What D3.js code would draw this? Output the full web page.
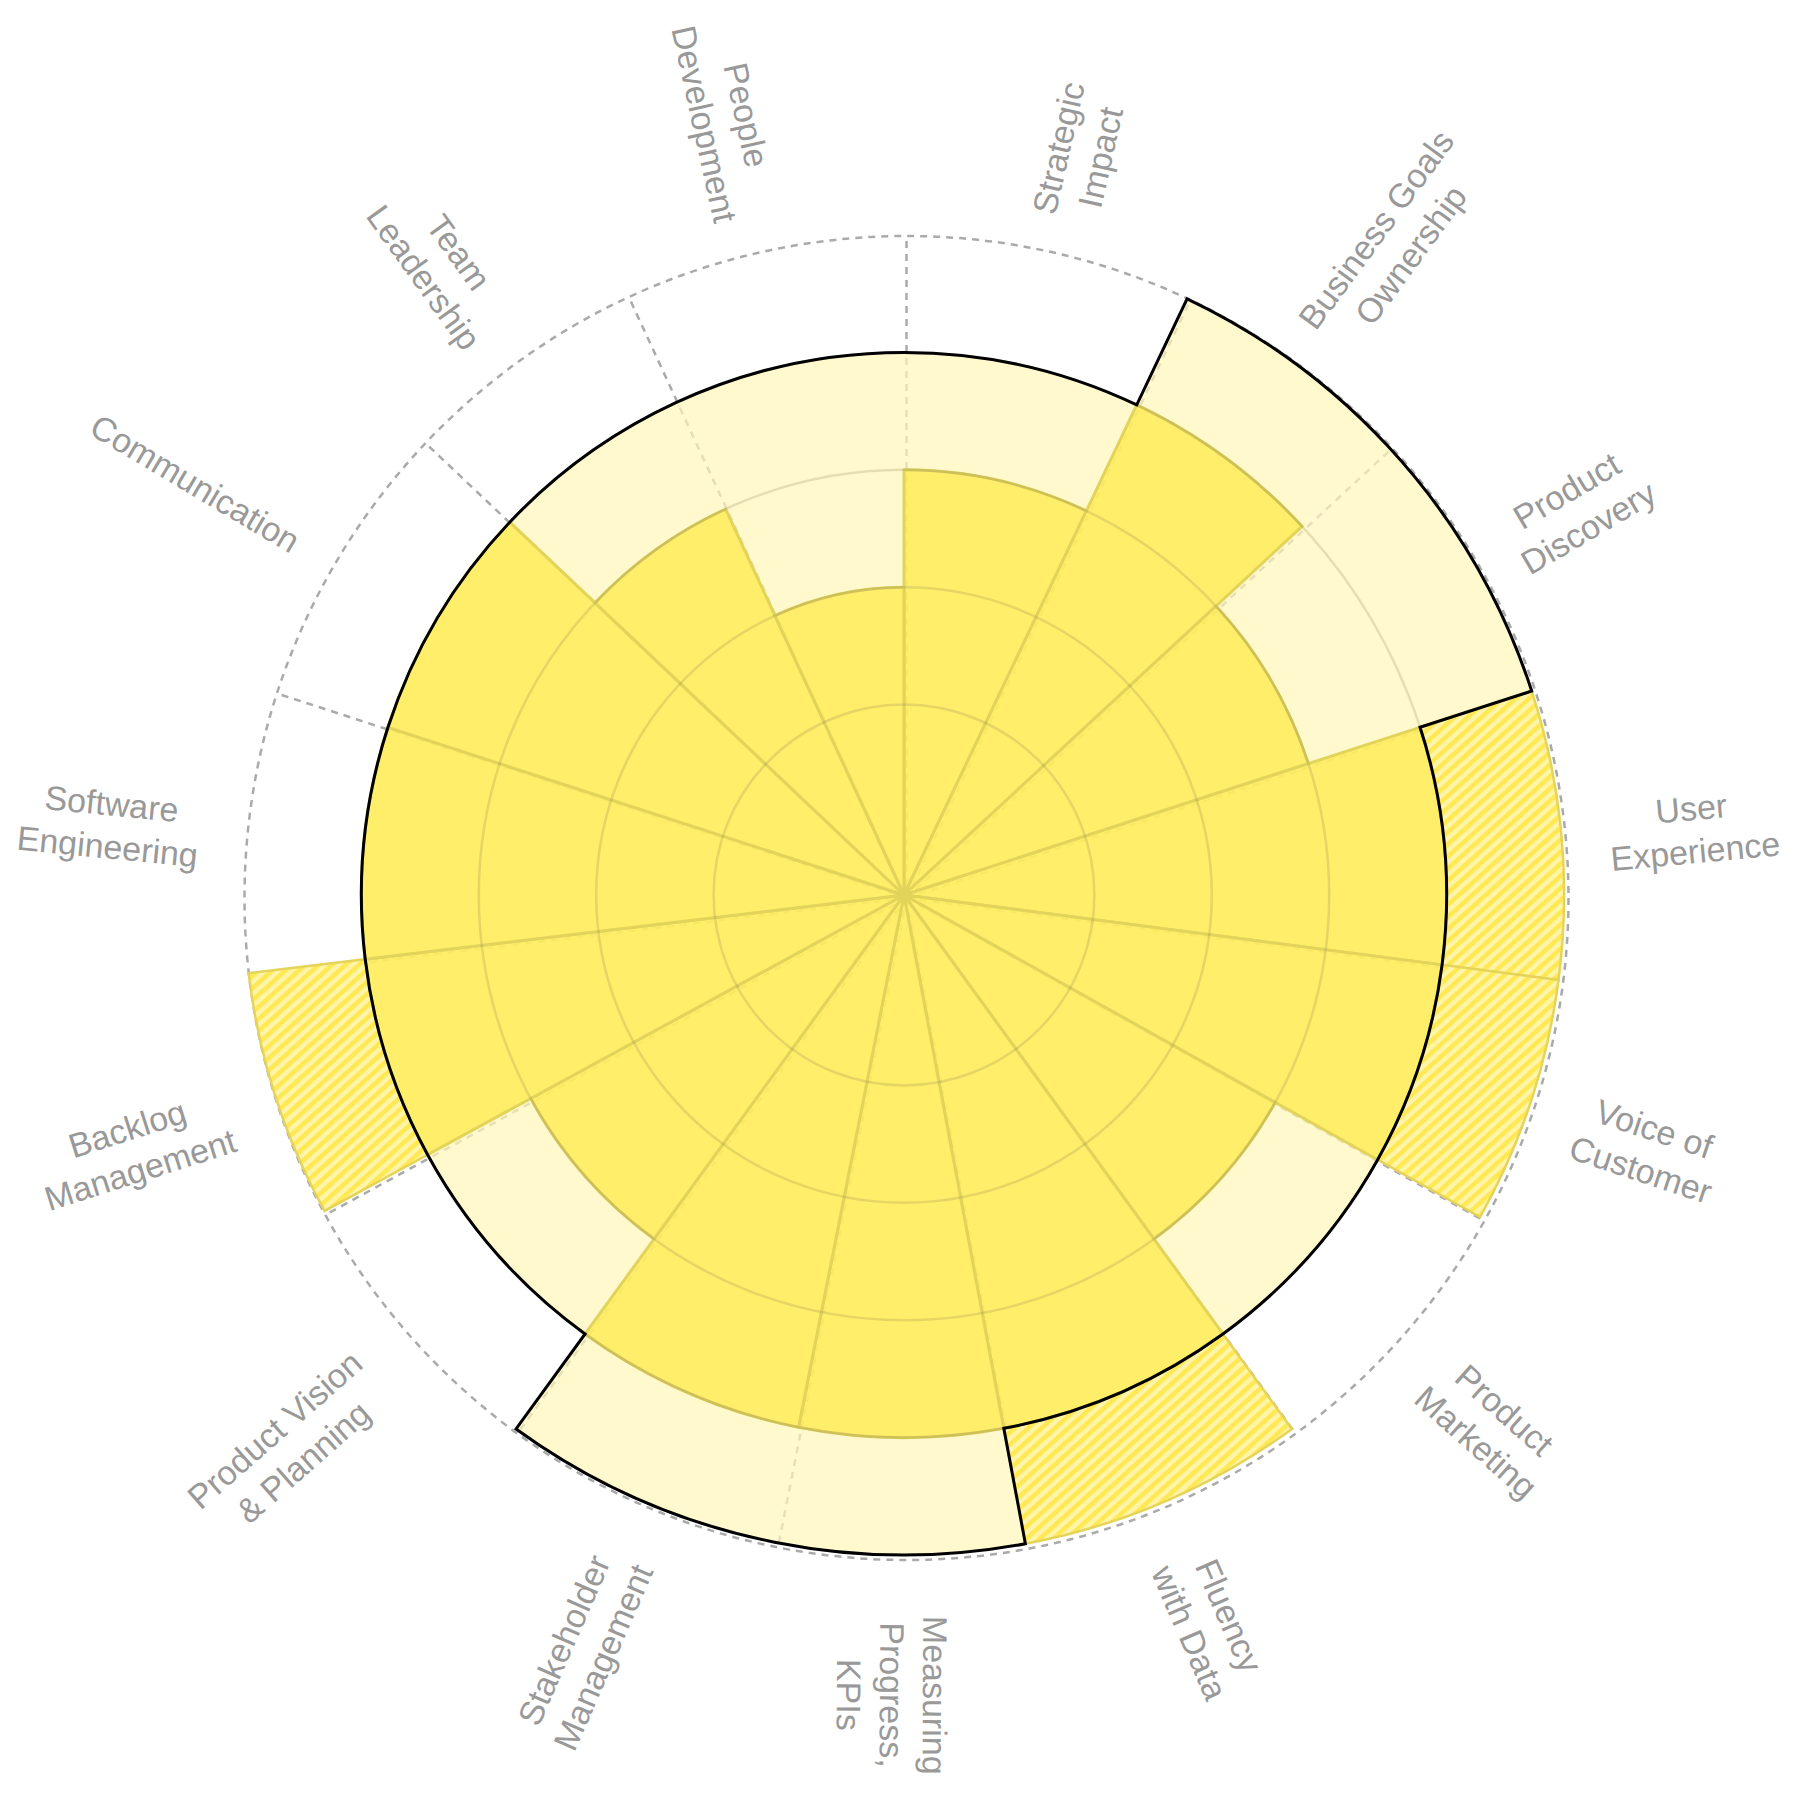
<!DOCTYPE html>
<html>
<head>
<meta charset="utf-8">
<script src="https://cdn.jsdelivr.net/npm/d3@7"></script>
<style>
  html, body { margin: 0; padding: 0; background: #fff; }
  svg { display: block; }
</style>
</head>
<body>
<svg id="chart" width="1800" height="1800"></svg>
<script>
// ---- data ----
const categories = [
  "Strategic\nImpact",
  "Business Goals\nOwnership",
  "Product\nDiscovery",
  "User\nExperience",
  "Voice of\nCustomer",
  "Product\nMarketing",
  "Fluency\nwith Data",
  "Measuring\nProgress,\nKPIs",
  "Stakeholder\nManagement",
  "Product Vision\n& Planning",
  "Backlog\nManagement",
  "Software\nEngineering",
  "Communication",
  "Team\nLeadership",
  "People\nDevelopment"
];
const currentLevel  = [3, 4, 3, 5, 5, 3, 5, 4, 4, 3, 5, 4, 4, 3, 2];
const expectedLevel = [4, 5, 5, 4, 4, 4, 4, 5, 5, 4, 4, 4, 4, 4, 4];
const levelTicks = [1, 2, 3, 4];
const maxLevel = 5;

// ---- layout ----
const W = 1800, H = 1800;
const cx = 904, cy = 895;
// skills come in groups of three; the middle sector of each group is narrower
const groupSplit = [25.4, 21.8, 24.8];

const svg = d3.select("#chart");
svg.append("rect").attr("width", W).attr("height", H).attr("fill", "#fff");

const defs = svg.append("defs");
const pat = defs.append("pattern")
  .attr("id", "hatch")
  .attr("patternUnits", "userSpaceOnUse")
  .attr("width", 9).attr("height", 9)
  .attr("patternTransform", "rotate(48)");
pat.append("rect").attr("width", 9).attr("height", 9).attr("fill", "#fff4a8");
pat.append("rect").attr("width", 4.5).attr("height", 9).attr("fill", "#ffe952");

const spans = categories.map((c, i) => groupSplit[i % 3]);
const edges = [0, ...d3.cumsum(spans)];
const ang = d3.scaleLinear().domain([0, edges[edges.length - 1]]).range([0, 2 * Math.PI]);
const y = d3.scaleLinear().domain([0, maxLevel]).range([73, 660]);

const rows = categories.map((c, i) => ({
  cat: c, cur: currentLevel[i], exp: expectedLevel[i],
  a0: ang(edges[i]), a1: ang(edges[i + 1])
}));

// grid (dashed) - slightly offset as in the reference
const gridG = svg.append("g").attr("transform", `translate(${cx + 2.5},${cy + 3})`);
const Rgrid = y(maxLevel) + 2;
gridG.selectAll("line.radial").data(rows).join("line")
  .attr("class", "radial")
  .attr("x1", 0).attr("y1", 0)
  .attr("x2", d => Rgrid * Math.sin(d.a0))
  .attr("y2", d => -Rgrid * Math.cos(d.a0))
  .attr("stroke", "#aaa").attr("stroke-width", 2.5)
  .attr("stroke-dasharray", "7,6");
gridG.append("circle")
  .attr("r", Rgrid)
  .attr("fill", "none")
  .attr("stroke", "#aaa").attr("stroke-width", 2.5)
  .attr("stroke-dasharray", "7,6");

const g = svg.append("g").attr("transform", `translate(${cx},${cy})`);

// light bars: gap between current and expected
const lightArc = d3.arc()
  .innerRadius(d => y(d.cur))
  .outerRadius(d => y(d.exp))
  .startAngle(d => d.a0)
  .endAngle(d => d.a1);
g.selectAll("path.light").data(rows.filter(d => d.cur < d.exp)).join("path")
  .attr("class", "light")
  .attr("d", lightArc)
  .attr("fill", "#fff6b8")
  .attr("fill-opacity", 0.7);

// dark bars: achieved up to expected
const darkArc = d3.arc()
  .innerRadius(0)
  .outerRadius(d => y(Math.min(d.cur, d.exp)))
  .startAngle(d => d.a0)
  .endAngle(d => d.a1);
g.selectAll("path.dark").data(rows).join("path")
  .attr("class", "dark")
  .attr("d", darkArc)
  .attr("fill", "#ffed5e")
  .attr("fill-opacity", 0.93)
  .attr("stroke", "#e2d35b")
  .attr("stroke-width", 3)
  .attr("stroke-linejoin", "round");

// hatched bars: exceeding expected
const hatchArc = d3.arc()
  .innerRadius(d => y(d.exp))
  .outerRadius(d => y(d.cur))
  .startAngle(d => d.a0)
  .endAngle(d => d.a1);
g.selectAll("path.hatch").data(rows.filter(d => d.cur > d.exp)).join("path")
  .attr("class", "hatch")
  .attr("d", hatchArc)
  .attr("fill", "url(#hatch)")
  .attr("stroke", "#e6d45a")
  .attr("stroke-width", 2.5);

// level circles
g.selectAll("circle.level").data(levelTicks).join("circle")
  .attr("class", "level")
  .attr("r", d => y(d))
  .attr("fill", "none")
  .attr("stroke", "#8a8050")
  .attr("stroke-opacity", 0.22)
  .attr("stroke-width", 2.5);

// expected outline
const p = d3.path();
rows.forEach(d => {
  p.arc(0, 0, y(d.exp), d.a0 - Math.PI / 2, d.a1 - Math.PI / 2);
});
p.closePath();
g.append("path")
  .attr("d", p.toString())
  .attr("fill", "none")
  .attr("stroke", "#000")
  .attr("stroke-width", 3)
  .attr("stroke-linejoin", "miter");

// labels
const fontSize = 34, lineH = 43;
const lg = g.append("g")
  .attr("font-family", "'Liberation Sans', Arial, Helvetica, sans-serif")
  .attr("font-size", fontSize)
  .attr("fill", "#999")
  .attr("text-anchor", "middle");
rows.forEach(d => {
  const a = (d.a0 + d.a1) / 2;
  const deg = a * 180 / Math.PI;
  const rot = deg < 185 ? deg - 90 : deg - 270;
  const lines = d.cat.split("\n");
  const t = lg.append("text");
  let maxW = 0;
  lines.forEach((ln, k) => {
    const ts = t.append("tspan")
      .attr("x", 0)
      .attr("y", (k - (lines.length - 1) / 2) * lineH + 0.35 * fontSize + 8)
      .text(ln);
    maxW = Math.max(maxW, ts.node().getComputedTextLength());
  });
  const rIn = 708 - 12.7 * Math.cos(a);
  const r = rIn + maxW / 2;
  t.attr("transform", `translate(${r * Math.sin(a)},${-r * Math.cos(a)}) rotate(${rot})`);
});
</script>
</body>
</html>
